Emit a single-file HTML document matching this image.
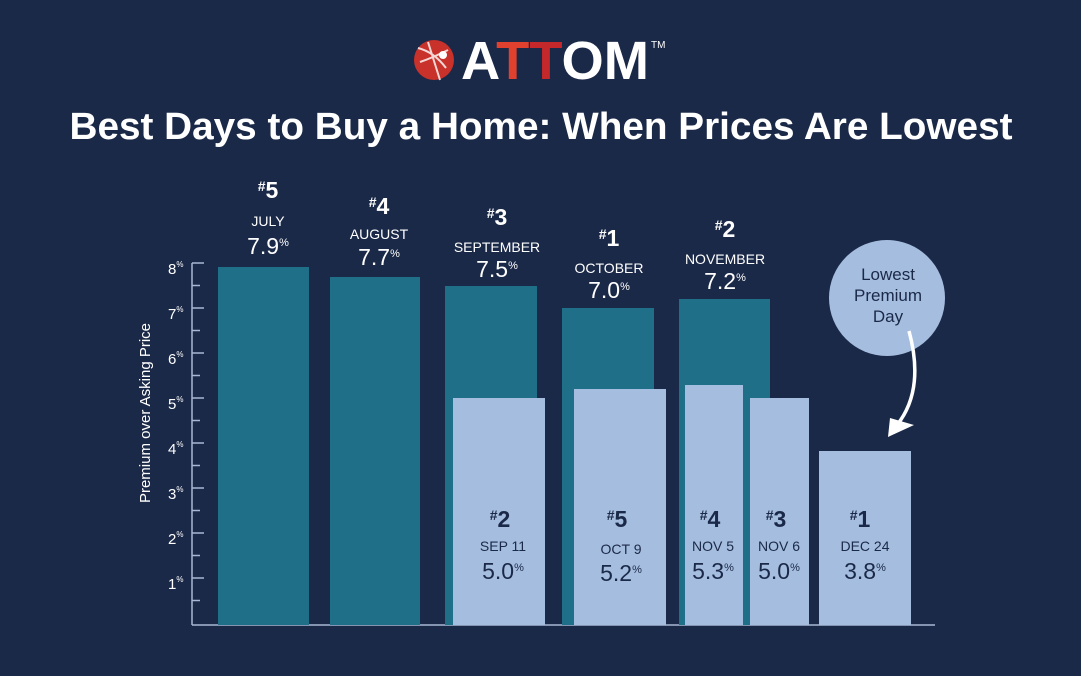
<!DOCTYPE html>
<html><head><meta charset="utf-8"><style>
html,body{margin:0;padding:0;background:#1b2948;}
svg{display:block;font-family:"Liberation Sans",sans-serif;}
</style></head><body>
<svg width="1081" height="676" viewBox="0 0 1081 676">
<rect width="1081" height="676" fill="#1b2948"/>
<!-- logo -->
<circle cx="434" cy="60" r="20" fill="#c8322b"/>
<path d="M418 48 Q434 52 446 68 M420 62 Q432 58 448 50 M428 42 L440 80" stroke="#fff" stroke-width="2" fill="none" opacity="0.8"/>
<circle cx="443" cy="55" r="4" fill="#fff"/>
<text x="461" y="79" font-size="54" font-weight="bold" fill="#fff" textLength="188" lengthAdjust="spacingAndGlyphs">A<tspan fill="#e0402e">T</tspan><tspan fill="#c5282a">T</tspan>OM</text>
<text x="651" y="48" font-size="10" fill="#fff">TM</text>
<text x="541" y="139" text-anchor="middle" font-size="38" font-weight="bold" fill="#fff" textLength="943" lengthAdjust="spacingAndGlyphs">Best Days to Buy a Home: When Prices Are Lowest</text>
<!-- axis -->
<g stroke="#a8b8d4" stroke-width="1.5">
<line x1="192" y1="263" x2="192" y2="625"/>
<line x1="192" y1="625" x2="935" y2="625"/>
<line x1="192" y1="263" x2="204" y2="263"/><line x1="192" y1="285.5" x2="200" y2="285.5"/>
<line x1="192" y1="308" x2="204" y2="308"/><line x1="192" y1="330.5" x2="200" y2="330.5"/>
<line x1="192" y1="353" x2="204" y2="353"/><line x1="192" y1="375.5" x2="200" y2="375.5"/>
<line x1="192" y1="398" x2="204" y2="398"/><line x1="192" y1="420.5" x2="200" y2="420.5"/>
<line x1="192" y1="443" x2="204" y2="443"/><line x1="192" y1="465.5" x2="200" y2="465.5"/>
<line x1="192" y1="488" x2="204" y2="488"/><line x1="192" y1="510.5" x2="200" y2="510.5"/>
<line x1="192" y1="533" x2="204" y2="533"/><line x1="192" y1="555.5" x2="200" y2="555.5"/>
<line x1="192" y1="578" x2="204" y2="578"/><line x1="192" y1="600.5" x2="200" y2="600.5"/>
</g>
<g fill="#fff" font-size="15" text-anchor="start">
<text x="168" y="274">8<tspan font-size="8" dy="-7">%</tspan></text>
<text x="168" y="319">7<tspan font-size="8" dy="-7">%</tspan></text>
<text x="168" y="364">6<tspan font-size="8" dy="-7">%</tspan></text>
<text x="168" y="409">5<tspan font-size="8" dy="-7">%</tspan></text>
<text x="168" y="454">4<tspan font-size="8" dy="-7">%</tspan></text>
<text x="168" y="499">3<tspan font-size="8" dy="-7">%</tspan></text>
<text x="168" y="544">2<tspan font-size="8" dy="-7">%</tspan></text>
<text x="168" y="589">1<tspan font-size="8" dy="-7">%</tspan></text>
</g>
<text transform="translate(150,413) rotate(-90)" text-anchor="middle" font-size="15" fill="#fff">Premium over Asking Price</text>
<!-- dark bars -->
<g fill="#1e6f87">
<rect x="218" y="267" width="91" height="358"/>
<rect x="330" y="277" width="90" height="348"/>
<rect x="445" y="286" width="92" height="339"/>
<rect x="562" y="308" width="92" height="317"/>
<rect x="679" y="299" width="91" height="326"/>
</g>
<!-- light bars -->
<g fill="#a5bddf">
<rect x="453" y="398" width="92" height="227"/>
<rect x="574" y="389" width="92" height="236"/>
<rect x="685" y="385" width="58" height="240"/>
<rect x="750" y="398" width="59" height="227"/>
<rect x="819" y="451" width="92" height="174"/>
</g>
<!-- top labels -->
<g fill="#fff" text-anchor="middle">
<text x="268" y="198" font-size="23" font-weight="bold"><tspan font-size="14" dy="-7">#</tspan><tspan dy="7">5</tspan></text>
<text x="268" y="226" font-size="14">JULY</text>
<text x="268" y="254" font-size="23">7.9<tspan font-size="11" dy="-8">%</tspan></text>
<text x="379" y="214" font-size="23" font-weight="bold"><tspan font-size="14" dy="-7">#</tspan><tspan dy="7">4</tspan></text>
<text x="379" y="239" font-size="14">AUGUST</text>
<text x="379" y="265" font-size="23">7.7<tspan font-size="11" dy="-8">%</tspan></text>
<text x="497" y="225" font-size="23" font-weight="bold"><tspan font-size="14" dy="-7">#</tspan><tspan dy="7">3</tspan></text>
<text x="497" y="252" font-size="14">SEPTEMBER</text>
<text x="497" y="277" font-size="23">7.5<tspan font-size="11" dy="-8">%</tspan></text>
<text x="609" y="246" font-size="23" font-weight="bold"><tspan font-size="14" dy="-7">#</tspan><tspan dy="7">1</tspan></text>
<text x="609" y="273" font-size="14">OCTOBER</text>
<text x="609" y="298" font-size="23">7.0<tspan font-size="11" dy="-8">%</tspan></text>
<text x="725" y="237" font-size="23" font-weight="bold"><tspan font-size="14" dy="-7">#</tspan><tspan dy="7">2</tspan></text>
<text x="725" y="264" font-size="14">NOVEMBER</text>
<text x="725" y="289" font-size="23">7.2<tspan font-size="11" dy="-8">%</tspan></text>
</g>
<!-- bottom labels -->
<g fill="#1b2948" text-anchor="middle">
<text x="500" y="527" font-size="23" font-weight="bold"><tspan font-size="14" dy="-7">#</tspan><tspan dy="7">2</tspan></text>
<text x="503" y="551" font-size="14">SEP 11</text>
<text x="503" y="579" font-size="23">5.0<tspan font-size="11" dy="-8">%</tspan></text>
<text x="617" y="527" font-size="23" font-weight="bold"><tspan font-size="14" dy="-7">#</tspan><tspan dy="7">5</tspan></text>
<text x="621" y="554" font-size="14">OCT 9</text>
<text x="621" y="581" font-size="23">5.2<tspan font-size="11" dy="-8">%</tspan></text>
<text x="710" y="527" font-size="23" font-weight="bold"><tspan font-size="14" dy="-7">#</tspan><tspan dy="7">4</tspan></text>
<text x="713" y="551" font-size="14">NOV 5</text>
<text x="713" y="579" font-size="23">5.3<tspan font-size="11" dy="-8">%</tspan></text>
<text x="776" y="527" font-size="23" font-weight="bold"><tspan font-size="14" dy="-7">#</tspan><tspan dy="7">3</tspan></text>
<text x="779" y="551" font-size="14">NOV 6</text>
<text x="779" y="579" font-size="23">5.0<tspan font-size="11" dy="-8">%</tspan></text>
<text x="860" y="527" font-size="23" font-weight="bold"><tspan font-size="14" dy="-7">#</tspan><tspan dy="7">1</tspan></text>
<text x="865" y="551" font-size="14">DEC 24</text>
<text x="865" y="579" font-size="23">3.8<tspan font-size="11" dy="-8">%</tspan></text>
</g>
<!-- bubble -->
<circle cx="887" cy="298" r="58" fill="#a5bddf"/>
<g fill="#1b2948" font-size="17" text-anchor="middle">
<text x="888" y="280">Lowest</text>
<text x="888" y="301">Premium</text>
<text x="888" y="322">Day</text>
</g>
<path d="M909 331 Q925 390 897 425" stroke="#fff" stroke-width="3.5" fill="none"/>
<polygon points="888,437 890,418 914,425" fill="#fff"/>
</svg>
</body></html>
